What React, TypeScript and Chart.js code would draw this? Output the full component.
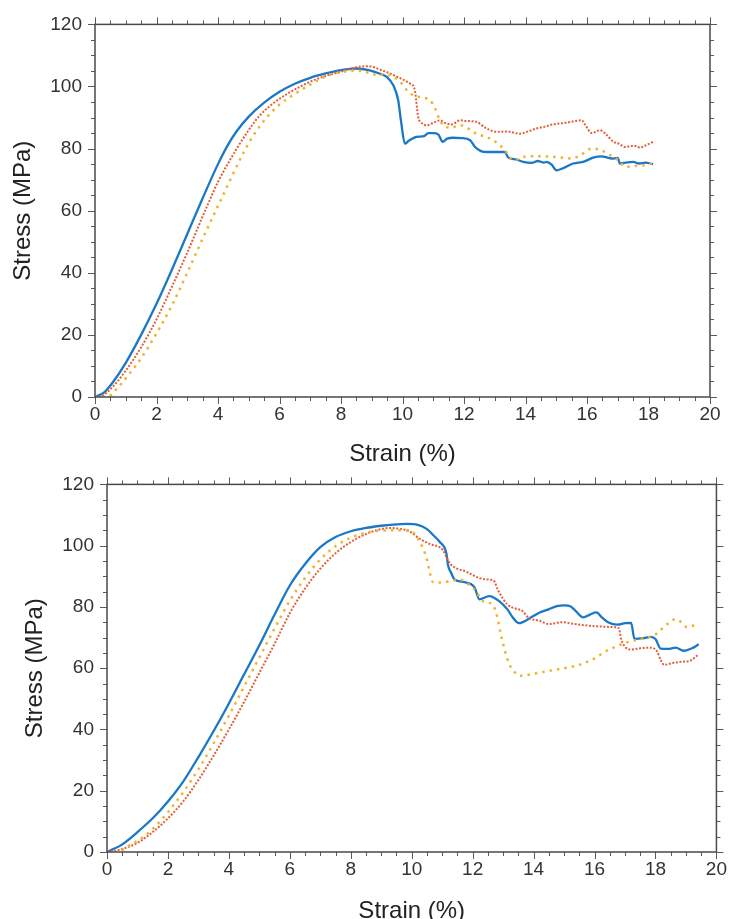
import React, { useEffect, useRef } from 'react';
import { Chart, registerables } from 'chart.js';

Chart.register(...registerables);

const FONT = 'Arial, "Liberation Sans", Helvetica, sans-serif';

// Axis settings
const xTitle = 'Strain (%)';
const yTitle = 'Stress (MPa)';
const xMin = 0, xMax = 20, xStep = 2, xMinorStep = 0.5;
const yMin = 0, yMax = 120, yStep = 20, yMinorStep = 5;

// ---------- Top chart ----------
const topBlueStrain = [0, 0.3, 0.6, 1.0, 1.5, 2.0, 2.5, 3.0, 3.5, 4.0, 4.3, 4.6, 5.0, 5.5, 6.0, 6.5, 7.0, 7.5, 8.0, 8.5, 8.9, 9.27, 9.5, 9.7, 9.86, 9.95, 10.08, 10.2, 10.46, 10.7, 10.84, 11.0, 11.16, 11.31, 11.45, 11.65, 11.9, 12.2, 12.36, 12.55, 12.74, 13.0, 13.33, 13.44, 13.7, 13.93, 14.2, 14.4, 14.6, 14.69, 14.85, 15.01, 15.2, 15.55, 15.9, 16.2, 16.48, 16.7, 16.86, 17.0, 17.07, 17.2, 17.5, 17.7, 17.9, 18.15];
const topBlueStress = [0, 1.5, 5, 11, 20, 30, 41, 52.5, 64, 75, 80.8, 85.5, 90.3, 94.8, 98.3, 100.9, 102.8, 104.2, 105.3, 105.8, 105.3, 104.1, 103, 100.4, 95.6, 89, 81.6, 82.5, 83.8, 84, 85, 85, 84.6, 82.2, 83.2, 83.5, 83.4, 82.7, 80.5, 79.2, 78.9, 78.9, 78.9, 77.1, 76.5, 75.7, 75.4, 76, 75.5, 75.7, 74.8, 73, 73.6, 75.2, 75.8, 77.1, 77.5, 77, 76.8, 77, 75.2, 75.4, 75.7, 75.2, 75.5, 75.0];

const topRedStrain = [0, 0.2, 0.5, 1.0, 1.5, 2.0, 2.5, 3.0, 3.69, 4.0, 4.61, 5.0, 5.37, 5.8, 6.23, 6.7, 7.1, 7.5, 7.97, 8.5, 8.8, 9.05, 9.27, 9.5, 9.81, 10.0, 10.24, 10.35, 10.41, 10.51, 10.6, 10.79, 11.0, 11.22, 11.4, 11.6, 11.87, 12.1, 12.41, 12.7, 13.06, 13.4, 13.82, 14.1, 14.36, 14.6, 14.9, 15.3, 15.83, 15.95, 16.15, 16.42, 16.6, 16.86, 17.05, 17.24, 17.45, 17.62, 17.72, 17.9, 18.15];
const topRedStress = [0, 0.3, 2.5, 8.5, 16, 25, 35.5, 46.5, 62.5, 69.3, 80, 86, 90.8, 94.6, 97.5, 100.1, 102, 103.4, 104.7, 106.2, 106.5, 106.3, 105.4, 104.6, 103.2, 102.3, 101, 100.2, 98.3, 90.2, 88.5, 87.5, 88.3, 89.1, 88.2, 87.8, 89.1, 88.9, 88.6, 86.7, 85.4, 85.5, 84.8, 85.6, 86.5, 87, 87.8, 88.3, 89.1, 87.5, 85, 85.9, 84.8, 82.2, 81.5, 80.5, 80.8, 80.8, 80.3, 81, 82.2];

const topYellowStrain = [0, 0.4, 0.7, 1.0, 1.5, 2.0, 2.5, 3.0, 3.5, 4.07, 4.82, 5.2, 5.58, 6.0, 6.45, 7.0, 7.53, 8.0, 8.51, 8.8, 9.05, 9.5, 9.92, 10.14, 10.35, 10.6, 10.89, 11.06, 11.2, 11.38, 11.6, 11.87, 12.41, 12.95, 13.33, 13.6, 14.04, 14.5, 15.01, 15.5, 15.8, 16.15, 16.42, 16.86, 17.05, 17.24, 17.5, 17.83, 18.15];
const topYellowStress = [0, 0, 2.5, 6, 12.5, 20.5, 29.5, 40, 51, 63, 78.5, 85, 90, 94.2, 97.3, 100.6, 103.4, 104.6, 105.2, 104.7, 103.9, 103.8, 101.6, 98.8, 97.2, 96.5, 95.6, 92.9, 89.5, 87, 86.8, 87.5, 84.8, 82.7, 79.5, 76.3, 77.5, 77.5, 77.3, 76.8, 78, 80, 79.6, 77.3, 76, 74.1, 74.4, 74.6, 75.4];

// ---------- Bottom chart ----------
const botBlueStrain = [0, 0.5, 1.0, 1.5, 2.0, 2.5, 3.0, 3.5, 4.0, 4.5, 5.0, 5.5, 6.0, 6.5, 7.0, 7.5, 8.0, 8.5, 9.0, 9.4, 9.84, 10.2, 10.49, 10.7, 10.92, 11.14, 11.19, 11.3, 11.41, 11.73, 12.06, 12.22, 12.54, 12.87, 13.14, 13.3, 13.52, 13.95, 14.2, 14.49, 14.76, 15.03, 15.2, 15.36, 15.63, 15.85, 16.06, 16.25, 16.44, 16.76, 17.0, 17.2, 17.31, 17.6, 17.85, 18.0, 18.17, 18.4, 18.66, 18.93, 19.2, 19.42];
const botBlueStress = [0, 2.5, 6.5, 11, 16.5, 23, 31, 39.5, 48.5, 58, 67.5, 77.5, 87, 94, 99.5, 102.8, 104.7, 105.8, 106.5, 106.9, 107.1, 106.8, 105.5, 103.5, 101.2, 97.4, 93.7, 91, 88.9, 88.1, 86.4, 82.5, 83.5, 81.9, 79.2, 76.8, 74.7, 76.8, 78.2, 79.2, 80.3, 80.5, 80.2, 78.9, 76.6, 77.5, 78.2, 76.5, 75, 74.2, 74.7, 74.8, 69.6, 69.8, 70.2, 69.5, 66.4, 66.3, 66.7, 65.7, 66.5, 67.8];

const botRedStrain = [0, 0.5, 1.0, 1.5, 2.0, 2.5, 3.0, 3.5, 4.0, 4.5, 5.0, 5.5, 6.0, 6.5, 7.0, 7.5, 8.0, 8.5, 9.0, 9.3, 9.6, 9.9, 10.27, 10.6, 11.03, 11.15, 11.3, 11.79, 12.2, 12.54, 12.7, 12.82, 13.14, 13.4, 13.63, 13.84, 14.2, 14.49, 14.93, 15.3, 15.79, 16.2, 16.66, 16.8, 16.87, 17.0, 17.2, 17.5, 17.85, 18.05, 18.17, 18.28, 18.6, 18.87, 19.15, 19.42];
const botRedStress = [0, 1, 3, 6.5, 11, 16.5, 23.5, 31.5, 40, 49, 58.5, 68, 78, 86, 92.5, 97.5, 101.2, 103.8, 105.4, 105.8, 105.5, 104.8, 102.2, 100.5, 98.5, 96, 93.7, 91.5, 89.5, 88.9, 88.5, 85.7, 80.8, 79.5, 78.7, 76.4, 75.5, 74.4, 75, 74.5, 73.9, 73.6, 73.4, 73, 69.6, 67, 66.1, 66.5, 66.7, 65.5, 62.7, 61.1, 61.8, 62.1, 62.5, 64.6];

const botYellowStrain = [0, 0.3, 0.8, 1.2, 1.5, 2.0, 2.5, 3.0, 3.5, 4.0, 4.5, 5.0, 5.5, 6.0, 6.5, 7.0, 7.5, 8.0, 8.5, 9.0, 9.5, 9.94, 10.27, 10.49, 10.6, 10.7, 11.0, 11.3, 11.57, 11.85, 12.11, 12.33, 12.65, 12.8, 12.92, 13.05, 13.19, 13.35, 13.57, 13.9, 14.38, 14.9, 15.36, 15.9, 16.44, 17.09, 17.5, 17.95, 18.39, 18.66, 18.85, 19.04, 19.42];
const botYellowStress = [0, 0, 2.5, 5, 7.5, 13, 19.5, 27, 35.5, 44.5, 54, 63.5, 73, 82, 89.5, 95.5, 99.8, 102.6, 104.2, 104.9, 105, 104.9, 101.2, 95.8, 91, 88.1, 88, 88.5, 88.9, 87.5, 85.1, 81.9, 80.8, 77, 71.2, 66, 61.6, 59, 57.5, 58, 58.9, 59.8, 60.7, 62.7, 65.9, 68.5, 69.5, 70.7, 74.4, 76, 75, 73.4, 74.6];

const BLUE = '#1a78c6';
const RED = '#e0603a';
const YELLOW = '#f1b22e';

function pts(xs: number[], ys: number[]) {
  return xs.map((x, i) => ({ x, y: ys[i] }));
}

const frameTicks = {
  id: 'frameTicks',
  afterDraw(chart: any) {
    const { ctx, chartArea: a, scales } = chart;
    const x = scales.x, y = scales.y;
    ctx.save();
    ctx.strokeStyle = '#5a5a5a';
    ctx.lineWidth = 1;
    const seg = (x1: number, y1: number, x2: number, y2: number) => {
      ctx.beginPath(); ctx.moveTo(x1, y1); ctx.lineTo(x2, y2); ctx.stroke();
    };
    const nx = Math.round((xMax - xMin) / xMinorStep);
    for (let i = 0; i <= nx; i++) {
      const v = xMin + i * xMinorStep;
      const major = Math.abs(v / xStep - Math.round(v / xStep)) < 1e-6;
      const len = major ? 7 : 4;
      const px = Math.round(x.getPixelForValue(v)) + 0.5;
      seg(px, a.bottom, px, a.bottom + len);
      seg(px, a.top, px, a.top - len);
    }
    const ny = Math.round((yMax - yMin) / yMinorStep);
    for (let i = 0; i <= ny; i++) {
      const v = yMin + i * yMinorStep;
      const major = Math.abs(v / yStep - Math.round(v / yStep)) < 1e-6;
      const len = major ? 7 : 4;
      const py = Math.round(y.getPixelForValue(v)) + 0.5;
      seg(a.left, py, a.left - len, py);
      seg(a.right, py, a.right + len, py);
    }
    ctx.strokeStyle = '#4a4a4a';
    ctx.lineWidth = 1.5;
    ctx.strokeRect(a.left, a.top, a.right - a.left, a.bottom - a.top);
    ctx.restore();
  },
};

type Props = {
  top: number;
  height: number;
  area: { left: number; right: number; top: number; bottom: number };
  yTitlePad: number;
  xTitlePad: number;
  blue: { x: number; y: number }[];
  red: { x: number; y: number }[];
  yellow: { x: number; y: number }[];
};

function StressChart(p: Props) {
  const ref = useRef<HTMLCanvasElement | null>(null);
  useEffect(() => {
    if (!ref.current) return;
    const W = 733;
    const chart = new Chart(ref.current, {
      type: 'scatter',
      data: {
        datasets: [
          {
            data: p.yellow, showLine: true, borderColor: YELLOW, borderWidth: 2.5,
            borderDash: [2.5, 5], pointRadius: 0, cubicInterpolationMode: 'monotone', borderCapStyle: 'butt',
          },
          {
            data: p.red, showLine: true, borderColor: RED, borderWidth: 2,
            borderDash: [2, 1.6], pointRadius: 0, cubicInterpolationMode: 'monotone', borderCapStyle: 'butt',
          },
          {
            data: p.blue, showLine: true, borderColor: BLUE, borderWidth: 2.3,
            pointRadius: 0, cubicInterpolationMode: 'monotone',
          },
        ],
      } as any,
      options: {
        animation: false,
        responsive: false,
        maintainAspectRatio: false,
        devicePixelRatio: 1,
        layout: { padding: { left: 0, top: p.area.top, right: W - p.area.right, bottom: 0 } },
        plugins: { legend: { display: false }, tooltip: { enabled: false } },
        scales: {
          x: {
            type: 'linear', min: xMin, max: xMax,
            grid: { display: false, drawTicks: false },
            border: { display: false },
            ticks: { stepSize: xStep, padding: 6, color: '#333', font: { family: FONT, size: 19 }, maxRotation: 0, autoSkip: false },
            title: { display: true, text: xTitle, color: '#222', font: { family: FONT, size: 24 }, padding: { top: 0, bottom: p.xTitlePad } },
            afterFit: (s: any) => { s.height = p.height - p.area.bottom; },
          },
          y: {
            type: 'linear', min: yMin, max: yMax,
            grid: { display: false, drawTicks: false },
            border: { display: false },
            ticks: { stepSize: yStep, padding: 13, color: '#333', font: { family: FONT, size: 19 } },
            title: { display: true, text: yTitle, color: '#222', font: { family: FONT, size: 24 }, padding: { top: p.yTitlePad, bottom: 0 } },
            afterFit: (s: any) => { s.width = p.area.left; },
          },
        },
      } as any,
      plugins: [frameTicks],
    });
    return () => chart.destroy();
  }, []);
  return (
    <canvas
      ref={ref}
      width={733}
      height={p.height}
      style={{ position: 'absolute', left: 0, top: p.top, width: 733, height: p.height }}
    />
  );
}

export default function App() {
  return (
    <div style={{ position: 'fixed', left: 0, top: 0, width: 733, height: 919, overflow: 'hidden', background: '#fff' }}>
      <StressChart
        top={0}
        height={470}
        area={{ left: 95, right: 710, top: 24, bottom: 397 }}
        yTitlePad={9}
        xTitlePad={1}
        blue={pts(topBlueStrain, topBlueStress)}
        red={pts(topRedStrain, topRedStress)}
        yellow={pts(topYellowStrain, topYellowStress)}
      />
      <StressChart
        top={460}
        height={470}
        area={{ left: 107, right: 723, top: 18, bottom: 392 }}
        yTitlePad={21}
        xTitlePad={4}
        blue={pts(botBlueStrain, botBlueStress)}
        red={pts(botRedStrain, botRedStress)}
        yellow={pts(botYellowStrain, botYellowStress)}
      />
    </div>
  );
}
